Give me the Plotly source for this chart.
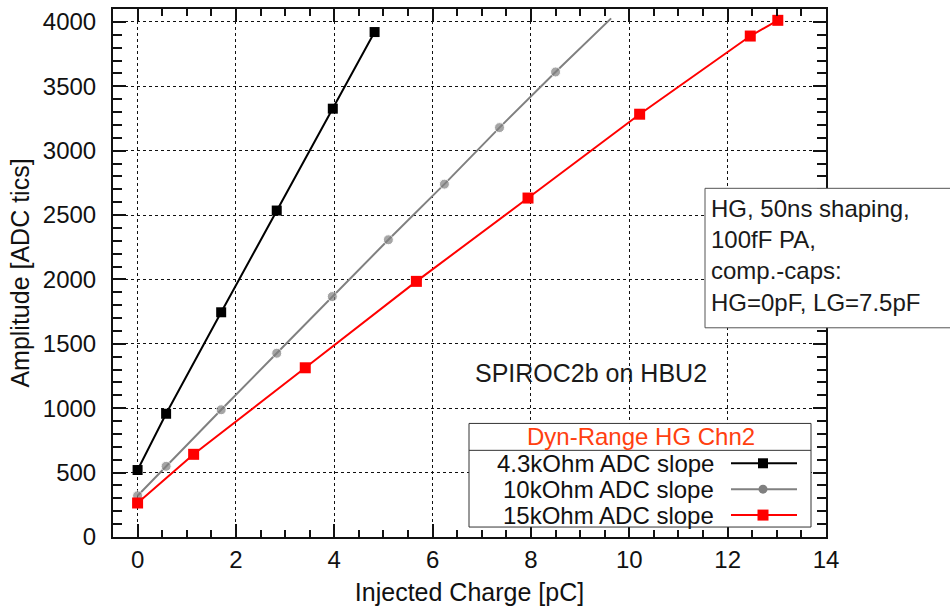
import plotly.graph_objects as go

# ---- data ----
x_43k = [0, 0.58, 1.70, 2.83, 3.97, 4.82]
y_43k = [520, 957, 1745, 2535, 3326, 3921]

x_10k = [0, 0.58, 1.70, 2.83, 3.96, 5.10, 6.24, 7.36, 8.50, 9.63]
y_10k = [320, 549, 988, 1427, 1867, 2308, 2740, 3179, 3611, 4027]
marker_10k = [10, 10, 10, 10, 10, 10, 10, 10, 10, 0]   # last point: line end only

x_15k = [0, 1.14, 3.41, 5.67, 7.94, 10.21, 12.46, 13.02]
y_15k = [264, 642, 1314, 1985, 2632, 3283, 3890, 4012]

series_names = ["4.3kOhm ADC slope", "10kOhm ADC slope", "15kOhm ADC slope"]
series_colors = ["#000000", "#808080", "#ff0000"]
legend_title = "Dyn-Range HG Chn2"
info_lines = ["HG, 50ns shaping,", "100fF PA,", "comp.-caps:", "HG=0pF, LG=7.5pF"]

FONT = "Liberation Sans, Arial, sans-serif"

fig = go.Figure()
fig.add_trace(go.Scatter(x=x_43k, y=y_43k, mode="lines+markers", name=series_names[0],
                         line=dict(color=series_colors[0], width=2),
                         marker=dict(symbol="square", size=10, color=series_colors[0])))
fig.add_trace(go.Scatter(x=x_10k, y=y_10k, mode="lines+markers", name=series_names[1],
                         line=dict(color=series_colors[1], width=2),
                         marker=dict(symbol="circle", size=marker_10k, color=series_colors[1])))
fig.add_trace(go.Scatter(x=x_15k, y=y_15k, mode="lines+markers", name=series_names[2],
                         line=dict(color=series_colors[2], width=2),
                         marker=dict(symbol="square", size=11, color=series_colors[2])))

# plot area in pixels: x 113..826, y 7..537
L, R, T, B = 113, 826, 7, 537
def px(x):
    return (x - L) / (R - L)
def py(y):
    return (B - y) / (B - T)

shapes = []
annotations = []

# info box (extends past right edge)
shapes.append(dict(type="rect", xref="paper", yref="paper", x0=px(705), x1=px(990),
                   y0=py(327), y1=py(187), line=dict(color="#555555", width=1),
                   fillcolor="white", layer="above"))
annotations.append(dict(xref="paper", yref="paper", x=px(709), y=py(192), xanchor="left",
                        yanchor="top", align="left", showarrow=False,
                        text="<br>".join(info_lines),
                        font=dict(family=FONT, size=24, color="#1a1a1a")))

# SPIROC label
annotations.append(dict(xref="paper", yref="paper", x=px(591), y=py(372), xanchor="center",
                        yanchor="middle", showarrow=False, text="SPIROC2b on HBU2",
                        font=dict(family=FONT, size=25, color="#1a1a1a")))

# legend box
shapes.append(dict(type="rect", xref="paper", yref="paper", x0=px(469), x1=px(811),
                   y0=py(527), y1=py(423), line=dict(color="#333333", width=1),
                   fillcolor="white", layer="above"))
shapes.append(dict(type="line", xref="paper", yref="paper", x0=px(469), x1=px(811),
                   y0=py(450), y1=py(450), line=dict(color="#333333", width=1), layer="above"))
annotations.append(dict(xref="paper", yref="paper", x=px(641), y=py(436), xanchor="center",
                        yanchor="middle", showarrow=False, text=legend_title,
                        font=dict(family=FONT, size=24, color="#ff4010")))
row_y = [463, 489, 515]
symbols = ["rect", "circle", "rect"]
msizes = [5, 4.5, 5.5]
for name, color, ry, sym, ms in zip(series_names, series_colors, row_y, symbols, msizes):
    annotations.append(dict(xref="paper", yref="paper", x=px(716), y=py(ry), xanchor="right",
                            yanchor="middle", showarrow=False, text=name,
                            font=dict(family=FONT, size=24, color="#111111")))
    shapes.append(dict(type="line", xref="paper", yref="paper", x0=px(731), x1=px(797),
                       y0=py(ry), y1=py(ry), line=dict(color=color, width=2), layer="above"))
    shapes.append(dict(type=sym, xref="paper", yref="paper", xsizemode="pixel", ysizemode="pixel",
                       xanchor=px(763), yanchor=py(ry), x0=-ms, x1=ms, y0=-ms, y1=ms,
                       line=dict(width=0), fillcolor=color, layer="above"))

axis_common = dict(
    showline=True, linecolor="#111111", linewidth=2, mirror="ticks",
    ticks="inside", tickcolor="#111111", tickwidth=2, ticklen=13,
    showgrid=True, gridcolor="#111111", gridwidth=1, griddash="3px,3px",
    zeroline=False,
    tickfont=dict(family=FONT, size=24, color="#111111"),
)

fig.update_layout(
    width=950, height=610,
    margin=dict(l=L, r=950 - R, t=T, b=610 - B),
    paper_bgcolor="white", plot_bgcolor="white",
    showlegend=False,
    shapes=shapes, annotations=annotations,
    font=dict(family=FONT, color="#111111"),
    xaxis=dict(range=[-0.5, 14], tick0=0, dtick=2, ticklabelstandoff=0,
               minor=dict(dtick=0.5, ticks="inside", ticklen=7, tickwidth=1.5,
                          tickcolor="#111111", showgrid=False),
               title=dict(text="Injected Charge [pC]", standoff=12,
                          font=dict(family=FONT, size=25, color="#111111")),
               **axis_common),
    yaxis=dict(range=[0, 4100], tick0=0, dtick=500, ticklabelstandoff=10,
               minor=dict(dtick=100, ticks="inside", ticklen=9, tickwidth=1.5,
                          tickcolor="#111111", showgrid=False),
               title=dict(text="Amplitude [ADC tics]", standoff=6,
                          font=dict(family=FONT, size=25, color="#111111")),
               **axis_common),
)

fig.write_html("out.html")
